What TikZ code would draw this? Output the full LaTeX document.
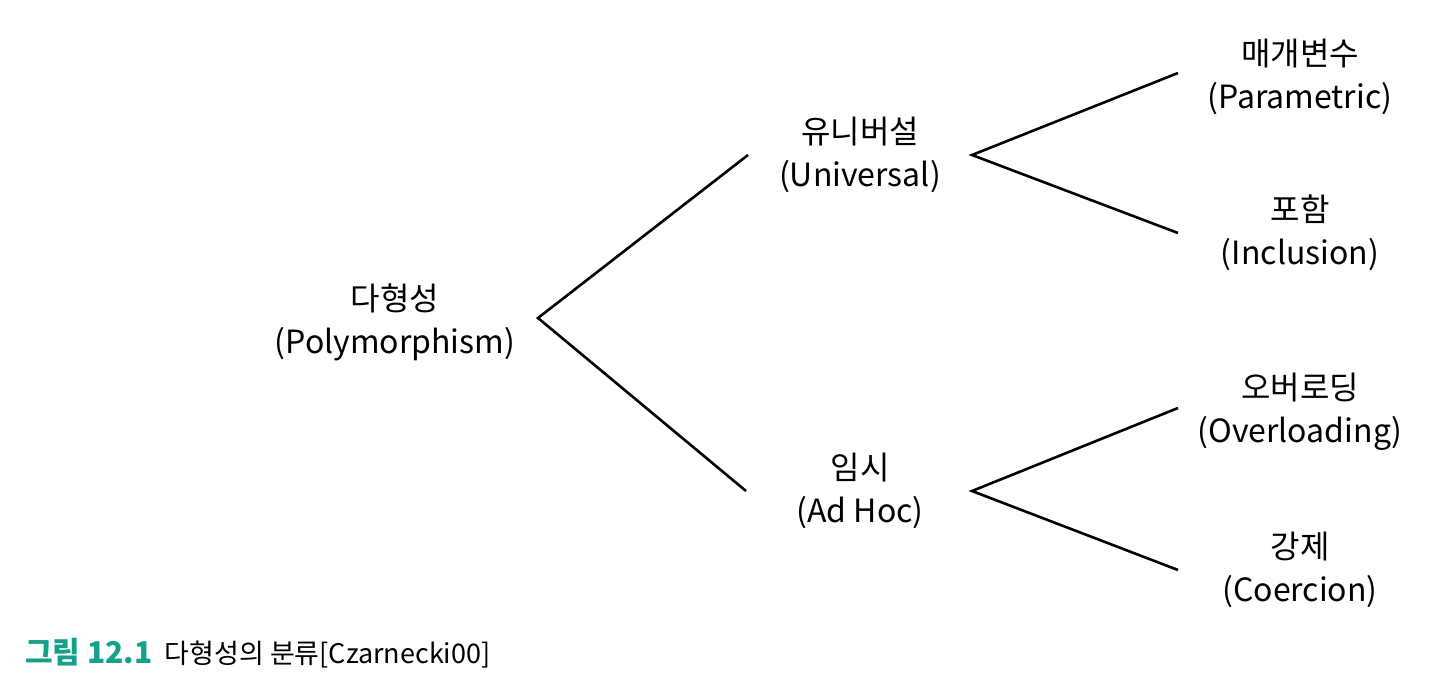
\documentclass[tikz,border=0pt]{standalone}
\usepackage{fontspec}
\setmainfont{Noto Sans CJK KR}
\newfontfamily\capfont{Noto Sans CJK KR}
\definecolor{capteal}{RGB}{20,160,138}
\begin{document}
\begin{tikzpicture}[x=1pt,y=-1pt,
  lbl/.style={align=center,font=\fontsize{32}{43}\selectfont,inner sep=0pt},
  branch/.style={line width=2.6pt,black}]
\useasboundingbox (0,0) rectangle (1430,696);
\node[lbl] (poly) at (395,322) {다형성\\(Polymorphism)};
\node[lbl] (univ) at (860,155) {유니버설\\(Universal)};
\node[lbl] (adhoc) at (860,491) {임시\\(Ad Hoc)};
\node[lbl] (para) at (1300,77) {매개변수\\(Parametric)};
\node[lbl] (incl) at (1300,233) {포함\\(Inclusion)};
\node[lbl] (over) at (1300,412) {오버로딩\\(Overloading)};
\node[lbl] (coer) at (1300,570) {강제\\(Coercion)};
\coordinate (p0) at (538,318);
\coordinate (u0) at (748,155);
\coordinate (a0) at (746,491);
\coordinate (u1) at (972,155);
\coordinate (a1) at (972,491);
\coordinate (pa) at (1178,73);
\coordinate (in) at (1178,233);
\coordinate (ov) at (1178,408);
\coordinate (co) at (1178,570);
\draw[branch] (u0) -- (p0) -- (a0);
\draw[branch] (pa) -- (u1) -- (in);
\draw[branch] (ov) -- (a1) -- (co);
\node[anchor=west,inner sep=0pt,font=\capfont\fontsize{27}{30}\selectfont] (cap) at (25,653)
  {\textcolor{capteal}{\fontsize{30}{30}\selectfont\bfseries 그림 12.1}\hspace{12pt}다형성의 분류[Czarnecki00]};
\end{tikzpicture}
\end{document}
